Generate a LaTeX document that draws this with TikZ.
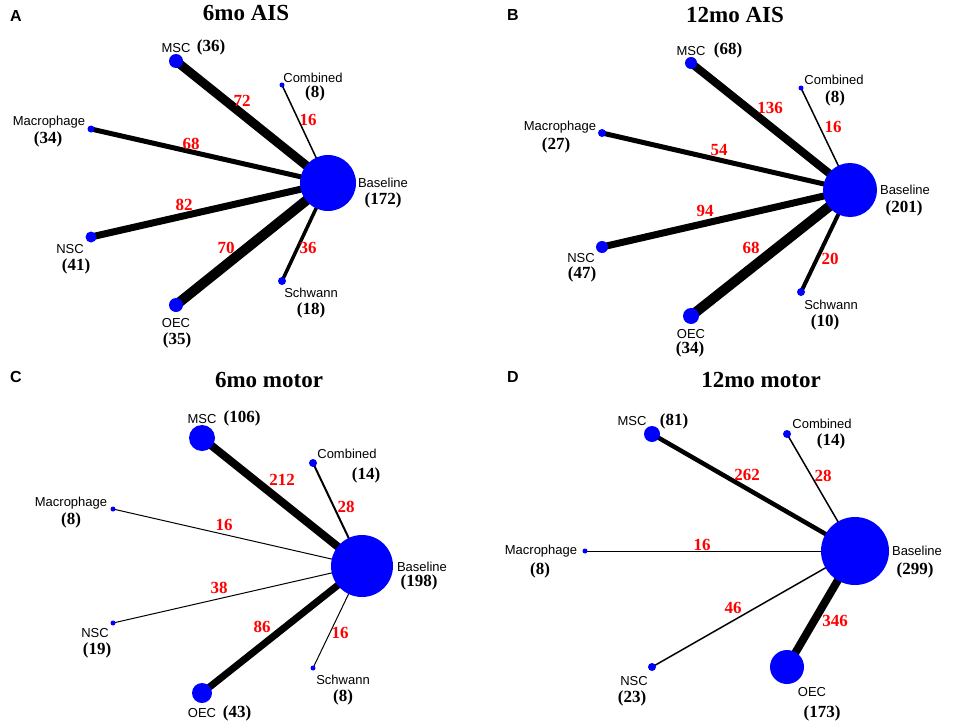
\documentclass[tikz,border=0pt]{standalone}
\usepackage{fontspec}
\setmainfont{Liberation Serif}
\setsansfont{Liberation Sans}
\usepackage{tikz}
\usetikzlibrary{backgrounds}

\tikzset{
  vtx/.style={circle,fill=blue,inner sep=0pt},
  nm/.style={font=\sffamily\fontsize{13}{13}\selectfont,inner sep=0pt},
  cnt/.style={font=\bfseries\fontsize{17}{17}\selectfont,inner sep=0pt},
  wt/.style={font=\bfseries\fontsize{17}{17}\selectfont,text=red,inner sep=0pt},
  ttl/.style={font=\bfseries\fontsize{23}{23}\selectfont,inner sep=0pt},
  pnl/.style={font=\sffamily\bfseries\fontsize{16}{16}\selectfont,inner sep=0pt},
  lnk/.style={draw=black,line width=#1}
}

\begin{document}
\begin{tikzpicture}[x=1pt,y=-1pt]
            \useasboundingbox (0,0) rectangle (957,725);

            \node[pnl] (aLetter) at (16,16) {A};
            \node[ttl] (aTitle) at (246,13) {6mo AIS};
            \node[vtx,minimum size=56] (aBase) at (328,183) {};
            \node[vtx,minimum size=14] (aMSC) at (176,61) {};
            \node[vtx,minimum size=5] (aComb) at (282,85) {};
            \node[vtx,minimum size=7] (aMac) at (91,129) {};
            \node[vtx,minimum size=11] (aNSC) at (91,237) {};
            \node[vtx,minimum size=14] (aOEC) at (176,305) {};
            \node[vtx,minimum size=8] (aSch) at (282,281) {};
            \node[nm] (aBaseL) at (383,183) {Baseline};
            \node[cnt] (aBaseN) at (383,200) {(172)};
            \node[nm] (aMSCL) at (176,48) {MSC};
            \node[cnt] (aMSCN) at (211,47) {(36)};
            \node[nm] (aCombL) at (313,78) {Combined};
            \node[cnt] (aCombN) at (315,93) {(8)};
            \node[nm] (aMacL) at (49,122) {Macrophage};
            \node[cnt] (aMacN) at (48,139) {(34)};
            \node[nm] (aNSCL) at (70,249) {NSC};
            \node[cnt] (aNSCN) at (76,266) {(41)};
            \node[nm] (aOECL) at (176,323) {OEC};
            \node[cnt] (aOECN) at (177,340) {(35)};
            \node[nm] (aSchL) at (311,293) {Schwann};
            \node[cnt] (aSchN) at (311,310) {(18)};
            \node[wt] (aW1) at (242,101) {72};
            \node[wt] (aW2) at (308,120) {16};
            \node[wt] (aW3) at (191,144) {68};
            \node[wt] (aW4) at (184,205) {82};
            \node[wt] (aW5) at (226,248) {70};
            \node[wt] (aW6) at (308,248) {36};

            \node[pnl] (bLetter) at (513,15) {B};
            \node[ttl] (bTitle) at (735,15) {12mo AIS};
            \node[vtx,minimum size=54] (bBase) at (850,190) {};
            \node[vtx,minimum size=12] (bMSC) at (691,63) {};
            \node[vtx,minimum size=5] (bComb) at (801,88) {};
            \node[vtx,minimum size=8] (bMac) at (602,133) {};
            \node[vtx,minimum size=12] (bNSC) at (602,247) {};
            \node[vtx,minimum size=16] (bOEC) at (691,316) {};
            \node[vtx,minimum size=8] (bSch) at (801,292) {};
            \node[nm] (bBaseL) at (905,190) {Baseline};
            \node[cnt] (bBaseN) at (904,208) {(201)};
            \node[nm] (bMSCL) at (691,51) {MSC};
            \node[cnt] (bMSCN) at (728,50) {(68)};
            \node[nm] (bCombL) at (834,80) {Combined};
            \node[cnt] (bCombN) at (835,98) {(8)};
            \node[nm] (bMacL) at (560,127) {Macrophage};
            \node[cnt] (bMacN) at (556,145) {(27)};
            \node[nm] (bNSCL) at (581,258) {NSC};
            \node[cnt] (bNSCN) at (582,274) {(47)};
            \node[nm] (bOECL) at (691,334) {OEC};
            \node[cnt] (bOECN) at (690,349) {(34)};
            \node[nm] (bSchL) at (831,305) {Schwann};
            \node[cnt] (bSchN) at (825,322) {(10)};
            \node[wt] (bW1) at (770,108) {136};
            \node[wt] (bW2) at (833,127) {16};
            \node[wt] (bW3) at (719,150) {54};
            \node[wt] (bW4) at (705,211) {94};
            \node[wt] (bW5) at (751,248) {68};
            \node[wt] (bW6) at (830,259) {20};

            \node[pnl] (cLetter) at (16,377) {C};
            \node[ttl] (cTitle) at (269,380) {6mo motor};
            \node[vtx,minimum size=62] (cBase) at (362,566) {};
            \node[vtx,minimum size=26] (cMSC) at (202,438) {};
            \node[vtx,minimum size=8] (cComb) at (313,463) {};
            \node[vtx,minimum size=5] (cMac) at (113,509) {};
            \node[vtx,minimum size=5] (cNSC) at (113,623) {};
            \node[vtx,minimum size=20] (cOEC) at (202,693) {};
            \node[vtx,minimum size=5] (cSch) at (313,668) {};
            \node[nm] (cBaseL) at (422,567) {Baseline};
            \node[cnt] (cBaseN) at (419,582) {(198)};
            \node[nm] (cMSCL) at (202,419) {MSC};
            \node[cnt] (cMSCN) at (242,418) {(106)};
            \node[nm] (cCombL) at (347,454) {Combined};
            \node[cnt] (cCombN) at (366,475) {(14)};
            \node[nm] (cMacL) at (71,503) {Macrophage};
            \node[cnt] (cMacN) at (71,520) {(8)};
            \node[nm] (cNSCL) at (95,633) {NSC};
            \node[cnt] (cNSCN) at (97,650) {(19)};
            \node[nm] (cOECL) at (202,713) {OEC};
            \node[cnt] (cOECN) at (237,713) {(43)};
            \node[nm] (cSchL) at (343,680) {Schwann};
            \node[cnt] (cSchN) at (343,697) {(8)};
            \node[wt] (cW1) at (282,480) {212};
            \node[wt] (cW2) at (346,507) {28};
            \node[wt] (cW3) at (224,525) {16};
            \node[wt] (cW4) at (219,588) {38};
            \node[wt] (cW5) at (262,627) {86};
            \node[wt] (cW6) at (340,633) {16};

            \node[pnl] (dLetter) at (513,377) {D};
            \node[ttl] (dTitle) at (761,380) {12mo motor};
            \node[vtx,minimum size=68] (dBase) at (855,551) {};
            \node[vtx,minimum size=16] (dMSC) at (652,434) {};
            \node[vtx,minimum size=8] (dComb) at (787,434) {};
            \node[vtx,minimum size=5] (dMac) at (585,551) {};
            \node[vtx,minimum size=8] (dNSC) at (652,667) {};
            \node[vtx,minimum size=34] (dOEC) at (787,667) {};
            \node[nm] (dBaseL) at (917,551) {Baseline};
            \node[cnt] (dBaseN) at (915,570) {(299)};
            \node[nm] (dMSCL) at (632,421) {MSC};
            \node[cnt] (dMSCN) at (674,421) {(81)};
            \node[nm] (dCombL) at (822,424) {Combined};
            \node[cnt] (dCombN) at (831,441) {(14)};
            \node[nm] (dMacL) at (541,551) {Macrophage};
            \node[cnt] (dMacN) at (540,570) {(8)};
            \node[nm] (dNSCL) at (634,681) {NSC};
            \node[cnt] (dNSCN) at (632,698) {(23)};
            \node[nm] (dOECL) at (812,692) {OEC};
            \node[cnt] (dOECN) at (822,713) {(173)};
            \node[wt] (dW1) at (747,475) {262};
            \node[wt] (dW2) at (823,476) {28};
            \node[wt] (dW3) at (702,545) {16};
            \node[wt] (dW4) at (733,608) {46};
            \node[wt] (dW5) at (835,621) {346};

            \begin{scope}[on background layer]
            \draw[lnk=9pt] (aMSC.center) -- (aBase.center);
            \draw[lnk=1.5pt] (aComb.center) -- (aBase.center);
            \draw[lnk=5pt] (aMac.center) -- (aBase.center);
            \draw[lnk=7pt] (aNSC.center) -- (aBase.center);
            \draw[lnk=10pt] (aOEC.center) -- (aBase.center);
            \draw[lnk=3.5pt] (aSch.center) -- (aBase.center);

            \draw[lnk=8pt] (bMSC.center) -- (bBase.center);
            \draw[lnk=1.5pt] (bComb.center) -- (bBase.center);
            \draw[lnk=5pt] (bMac.center) -- (bBase.center);
            \draw[lnk=7pt] (bNSC.center) -- (bBase.center);
            \draw[lnk=10pt] (bOEC.center) -- (bBase.center);
            \draw[lnk=4pt] (bSch.center) -- (bBase.center);

            \draw[lnk=8pt] (cMSC.center) -- (cBase.center);
            \draw[lnk=2pt] (cComb.center) -- (cBase.center);
            \draw[lnk=1pt] (cMac.center) -- (cBase.center);
            \draw[lnk=1pt] (cNSC.center) -- (cBase.center);
            \draw[lnk=7pt] (cOEC.center) -- (cBase.center);
            \draw[lnk=1pt] (cSch.center) -- (cBase.center);

            \draw[lnk=4.5pt] (dMSC.center) -- (dBase.center);
            \draw[lnk=1.5pt] (dComb.center) -- (dBase.center);
            \draw[lnk=1pt] (dMac.center) -- (dBase.center);
            \draw[lnk=1.5pt] (dNSC.center) -- (dBase.center);
            \draw[lnk=8pt] (dOEC.center) -- (dBase.center);
            \end{scope}
          \end{tikzpicture}
\end{document}
